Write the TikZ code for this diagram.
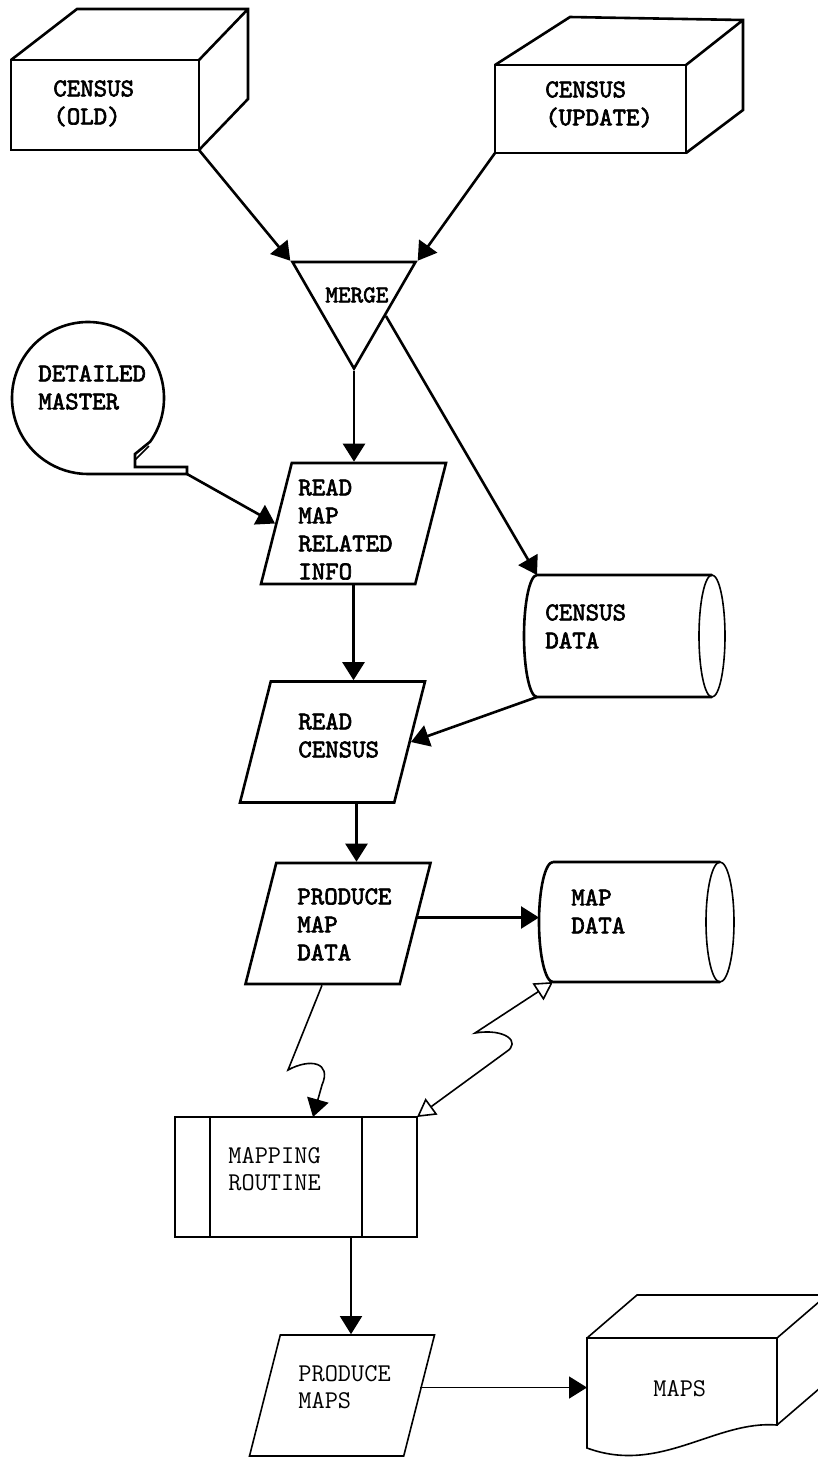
\documentclass[tikz,border=0pt]{standalone}
\usepackage{fontspec}
\newfontfamily\typebold{lmmono10-regular.otf}[FakeBold=2.5]
\usetikzlibrary{shapes.geometric, arrows.meta}

\begin{document}
\begin{tikzpicture}[
        x=0.5pt, y=-0.5pt,
        shapeline/.style={line width=1.3pt},
        thinline/.style={line width=0.8pt},
        holder/.style={rectangle, inner sep=0pt, outer sep=0pt},
        cube/.style={holder, draw, shapeline},
        slanted/.style={trapezium, trapezium left angle=76, trapezium right angle=104, trapezium stretches=true, draw, shapeline, inner sep=2pt, minimum width=92.5pt, minimum height=60.5pt},
        mergebox/.style={regular polygon, regular polygon sides=3, shape border rotate=180, draw, shapeline, inner sep=0pt, minimum size=71pt},
        txt/.style={font=\typebold\fontsize{12.8pt}{14pt}\selectfont, align=left, anchor=north west, inner sep=0pt},
        txtlight/.style={txt, font=\ttfamily\fontsize{12.8pt}{13.5pt}\selectfont},
        flow/.style={shapeline, -{Triangle[length=9pt, width=11pt]}},
        flowlight/.style={thinline, -{Triangle[length=9pt, width=11pt]}},
        twoway/.style={thinline, {Triangle[open, length=9pt, width=10pt]}-{Triangle[open, length=9pt, width=10pt]}}
    ]

    \clip (0,0) rectangle (818,1458);
    \fill[white] (0,0) rectangle (818,1458);

    % Formen
    \node[cube, minimum width=94pt, minimum height=45pt] (cold) at (105,105) {};
    \node[cube, minimum width=95.5pt, minimum height=44pt] (cupd) at (590.5,109) {};
    \node[mergebox] (merge) at (354,297.5) {};
    \node[holder, circle, minimum size=76pt] (dmaster) at (88,398) {};
    \node[slanted] (rdmap) at (353.5,523.5) {};
    \node[holder, minimum width=100.5pt, minimum height=61pt] (cdata) at (624.5,636) {};
    \node[slanted] (rdcen) at (332.5,742) {};
    \node[slanted] (pmdata) at (338,923.5) {};
    \node[holder, minimum width=97.5pt, minimum height=60pt] (mdata) at (636.5,922) {};
    \node[holder, draw, thinline, minimum width=121pt, minimum height=60pt] (mrout) at (296,1177) {};
    \node[slanted, thinline] (pmaps) at (342,1395.5) {};
    \node[holder, minimum width=95pt, minimum height=49pt] (maps) at (682,1387) {};

    % Kanten der Wuerfel
    \draw[shapeline] (cold.north west) -- ++(66,-51) -- ++(171,0) -- ++(0,90) -- (cold.south east)
                     (cold.north east) -- ++(49,-51);
    \draw[shapeline] (cupd.north west) -- ++(75,-48) -- ++(173,3) -- ++(0,90) -- (cupd.south east)
                     (cupd.north east) -- ++(57,-45);
    \draw[thinline] (maps.north west) -- (maps.north east) -- ++(0,87)
                    .. controls (715,1420) and (660,1475) .. (587,1448) -- cycle;
    \draw[thinline] (maps.north west) -- ++(50,-43) -- ++(240,0)
                    (maps.north east) -- ++(50,-43) -- ++(0,87) -- ++(-50,43);

    % Band und Zylinder
    \draw[shapeline] (dmaster.-35) arc[start angle=35, end angle=-270, radius=76]
                     -- ++(99,0) coordinate (dmtail) -- ++(0,-7) -- ++(-52,0) -- ++(0,-13) -- cycle;
    \draw[thinline] (dmaster.center) ++(47,62) -- ++(14,-14);
    \draw[shapeline] ([xshift=6.5pt]cdata.north west) -- ([xshift=-6.5pt]cdata.north east)
                     ([xshift=6.5pt]cdata.south west) -- ([xshift=-6.5pt]cdata.south east)
                     ([xshift=6.5pt]cdata.north west) arc[start angle=270, end angle=90, x radius=13, y radius=61];
    \draw[thinline] ([xshift=-6.5pt]cdata.east) ellipse[x radius=13, y radius=61];
    \draw[shapeline] ([xshift=7pt]mdata.north west) -- ([xshift=-7pt]mdata.north east)
                     ([xshift=7pt]mdata.south west) -- ([xshift=-7pt]mdata.south east)
                     ([xshift=7pt]mdata.north west) arc[start angle=270, end angle=90, x radius=14, y radius=60];
    \draw[thinline] ([xshift=-7pt]mdata.east) ellipse[x radius=14, y radius=60];
    \draw[thinline] (mrout.north west) ++(35,0) -- ++(0,120)
                    (mrout.north east) ++(-55,0) -- ++(0,120);

    % Beschriftung
    \node[txt] (cold-t) at (53,80) {CENSUS\\(OLD)};
    \node[txt] (cupd-t) at (545,81) {CENSUS\\(UPDATE)};
    \node[txt, font=\typebold\fontsize{12pt}{13pt}\selectfont] (merge-t) at (325,287) {MERGE};
    \node[txt] (dmaster-t) at (38,365) {DETAILED\\MASTER};
    \node[txt] (rdmap-t) at (298,479) {READ\\MAP\\RELATED\\INFO};
    \node[txt] (cdata-t) at (545,604) {CENSUS\\DATA};
    \node[txt] (rdcen-t) at (298,713) {READ\\CENSUS};
    \node[txt] (pmdata-t) at (297,888) {PRODUCE\\MAP\\DATA};
    \node[txt] (mdata-t) at (571,889) {MAP\\DATA};
    \node[txtlight] (mrout-t) at (228,1147) {MAPPING\\ROUTINE};
    \node[txtlight] (pmaps-t) at (298,1365) {PRODUCE\\MAPS};
    \node[txtlight] (maps-t) at (653,1380) {MAPS};

    % Verbindungen
    \draw[flow] (cold.south east) -- (merge.150);
    \draw[flow] (cupd.south west) -- (merge.30);
    \draw[flow] (merge.south) -- (merge.south |- rdmap.north);
    \draw[flow] (merge.-30) -- ([xshift=6.5pt]cdata.north west);
    \draw[flow] (dmtail) -- (rdmap.left side);
    \draw[flow] (rdmap.south) -- (rdmap.south |- rdcen.north);
    \draw[flow] ([xshift=6.5pt]cdata.south west) -- (rdcen.right side);
    \draw[flow] ([xshift=12pt]rdcen.south) -- ([xshift=12pt]rdcen.south |- pmdata.north);
    \draw[flow] ([yshift=3pt]pmdata.right side) -- ([yshift=3pt]pmdata.right side -| mdata.west);
    \draw[flowlight] ([xshift=-8pt]pmdata.south) -- (288,1070)
                     .. controls (310,1058) and (332,1062) .. (322,1085) -- ([xshift=8.5pt]mrout.north);
    \draw[twoway] (mrout.north east) -- (506,1052)
                  .. controls (522,1042) and (505,1028) .. (475,1033) -- ([xshift=7pt]mdata.south west);
    \draw[flowlight] ([xshift=27.5pt]mrout.south) -- ([xshift=27.5pt]mrout.south |- pmaps.north);
    \draw[flowlight] ([yshift=4pt]pmaps.right side) -- ([yshift=4pt]pmaps.right side -| maps.west);

\end{tikzpicture}
\end{document}
